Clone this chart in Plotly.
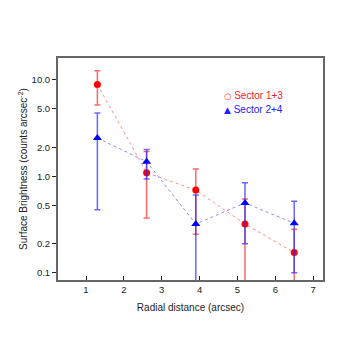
import plotly.graph_objects as go

radius = [1.3, 2.6, 3.9, 5.2, 6.5]
sb_13 = [9.0, 1.09, 0.72, 0.32, 0.162]
err_13 = [3.5, 0.72, 0.47, 0.26, 0.12]
sb_24 = [2.5, 1.42, 0.32, 0.53, 0.325]
err_24 = [2.05, 0.48, 0.32, 0.33, 0.225]

ytick_vals = [0.1, 0.2, 0.5, 1.0, 2.0, 5.0, 10.0]
ytick_text = ["0.1", "0.2", "0.5", "1.0", "2.0", "5.0", "10.0"]
xtick_vals = [1, 2, 3, 4, 5, 6, 7]
legend_names = ["Sector 1+3", "Sector 2+4"]

RED = "#ff0000"
BLUE = "#0000ff"

fig = go.Figure()
# connecting dotted lines
fig.add_trace(go.Scatter(x=radius, y=sb_13, mode="lines", showlegend=False,
                         line=dict(color="rgba(255,90,90,0.7)", width=1, dash="dot")))
fig.add_trace(go.Scatter(x=radius, y=sb_24, mode="lines", showlegend=False,
                         line=dict(color="rgba(90,90,255,0.7)", width=1, dash="dot")))
# points with error bars
fig.add_trace(go.Scatter(x=radius, y=sb_13, mode="markers", showlegend=False,
                         marker=dict(symbol="circle", size=7, color=RED),
                         error_y=dict(type="data", array=err_13, color="rgba(255,40,40,0.7)",
                                      thickness=1.5, width=3)))
fig.add_trace(go.Scatter(x=radius, y=sb_24, mode="markers", showlegend=False,
                         marker=dict(symbol="triangle-up", size=8, color=BLUE),
                         error_y=dict(type="data", array=err_24, color="rgba(40,40,255,0.7)",
                                      thickness=1.5, width=3)))

# legend (manual, compact like the reference)
fig.add_annotation(xref="paper", yref="paper", x=0.62, y=0.832, xanchor="left", yanchor="middle",
                   showarrow=False,
                   text='<span style="font-family:DejaVu Sans;font-size:8.5px">○</span> ' + legend_names[0],
                   font=dict(size=10, color="#ff2020"))
fig.add_annotation(xref="paper", yref="paper", x=0.62, y=0.768, xanchor="left", yanchor="middle",
                   showarrow=False,
                   text='<span style="font-family:DejaVu Sans;font-size:9px">▲</span> ' + legend_names[1],
                   font=dict(size=10, color="#2020ff"))

fig.update_layout(
    width=345, height=345,
    margin=dict(l=50, r=30, t=50, b=73, autoexpand=False),
    showlegend=False,
    paper_bgcolor="white", plot_bgcolor="white",
    font=dict(family="Liberation Sans, Arial, sans-serif", size=10, color="#222"),
    xaxis=dict(range=[0.26, 7.26], tickvals=xtick_vals, ticks="inside", ticklen=4,
               tickcolor="#222", showgrid=False, zeroline=False,
               showline=True, mirror=True, linecolor="#666", linewidth=2,
               title=dict(text="Radial distance (arcsec)", font=dict(size=10), standoff=10),
               tickfont=dict(size=9.5), automargin=True),
    yaxis=dict(type="log", range=[-1.076, 1.228], tickvals=ytick_vals, ticktext=ytick_text,
               ticks="outside", ticklen=4, tickcolor="#222", showgrid=False, zeroline=False,
               showline=True, mirror=True, linecolor="#666", linewidth=2,
               title=dict(text="Surface Brightness (counts arcsec<sup>-2</sup>)",
                          font=dict(size=10), standoff=2),
               tickfont=dict(size=9.5), automargin=True),
)

fig.write_html("out.html")
